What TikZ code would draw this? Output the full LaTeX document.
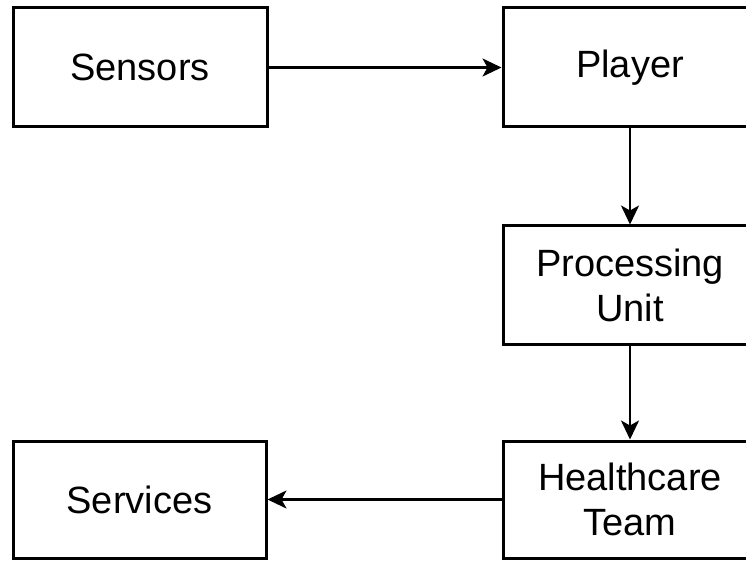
\documentclass[tikz,border=0pt]{standalone}
\usepackage{fontspec}
\setmainfont{Liberation Sans}
\usetikzlibrary{arrows.meta}
\begin{document}
\begin{tikzpicture}[x=1pt,y=1pt,
  box/.style={draw=black, line width=3pt, fill=white, minimum width=254pt, align=center, font=\fontsize{38}{45}\selectfont, inner sep=0pt},
  conn/.style={line width=2.4pt, -{Stealth[length=19pt,width=18pt,inset=5pt]}}]
\useasboundingbox (0,0) rectangle (746,560);
\clip (0,0) rectangle (746,560);
\fill[white] (0,0) rectangle (746,560);
% y = 560 - y_img
\node[box, minimum height=119pt] (sensors) at (140,492.5) {Sensors};
\node[box, minimum height=119pt] (player) at (630,492.5) {Player};
\node[box, minimum height=118pt] (proc) at (630,275) {Processing\\Unit};
\node[box, minimum height=117pt] (health) at (630,60.5) {Healthcare\\Team};
\node[box, minimum height=117pt, minimum width=253pt] (services) at (139.5,60.5) {Services};
\draw[conn] (sensors.east) -- (player.west);
\draw[conn] (player.south) -- (proc.north);
\draw[conn] (proc.south) -- (health.north);
\draw[conn] (health.west) -- (services.east);
\end{tikzpicture}
\end{document}
